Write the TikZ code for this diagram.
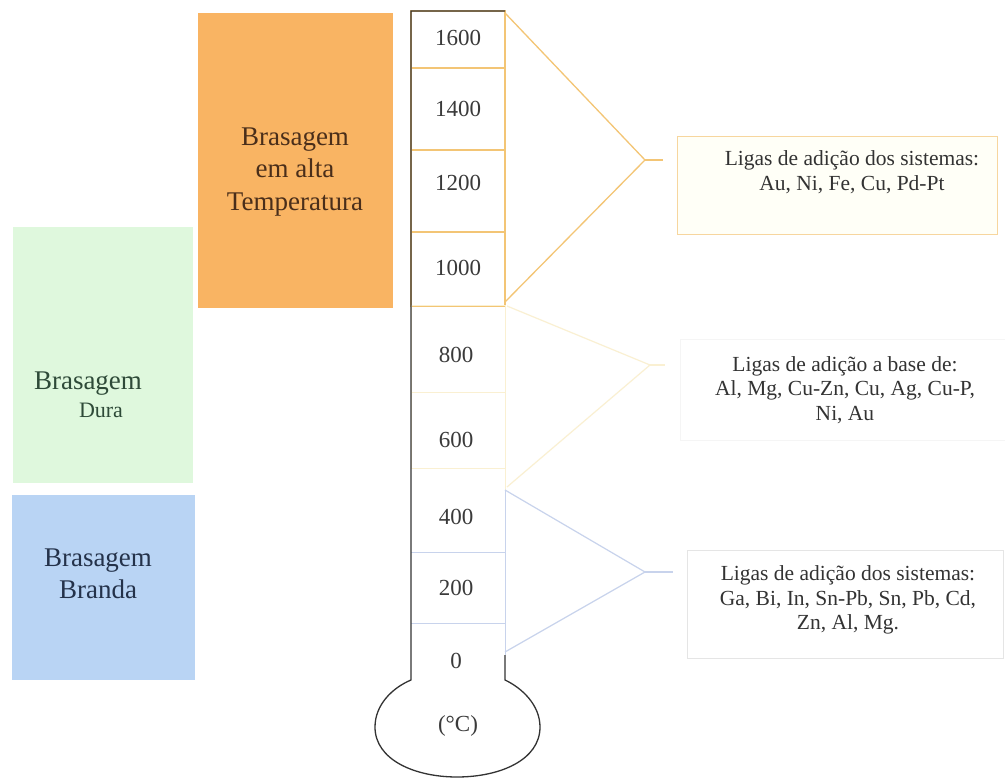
\documentclass[tikz,border=0pt]{standalone}
\usepackage{fontspec}
\setmainfont{Liberation Serif}
\definecolor{hotfill}{HTML}{F9B463}
\definecolor{hardfill}{HTML}{DFF8DD}
\definecolor{softfill}{HTML}{B9D4F4}
\definecolor{hottext}{HTML}{4A2E1A}
\definecolor{hardtext}{HTML}{2E4A38}
\definecolor{softtext}{HTML}{24324A}
\definecolor{hotline}{HTML}{F3C575}
\definecolor{midline}{HTML}{FAF0D2}
\definecolor{softline}{HTML}{C8D3EC}
\definecolor{numtext}{HTML}{3A3A3A}
\definecolor{boxtext}{HTML}{333333}
\tikzset{
  zonebox/.style={draw=none, inner sep=0pt},
  biglabel/.style={font=\fontsize{27}{32.5}\selectfont, align=center, inner sep=0pt},
  numlabel/.style={font=\fontsize{23}{26}\selectfont, text=numtext, inner sep=0pt},
  infobox/.style={inner sep=0pt},
  infotext/.style={font=\fontsize{21.5}{24.5}\selectfont, text=boxtext, align=center, inner sep=0pt},
  stem/.style={draw=black!80, line width=1.3pt},
}
\begin{document}
\begin{tikzpicture}[x=1pt,y=-1pt]
\useasboundingbox (0,0) rectangle (1005,778);
\fill[white] (0,0) rectangle (1005,778);

% zone boxes
\node[zonebox, fill=hotfill, minimum width=195, minimum height=295] (hot) at (295,160.5) {};
\node[zonebox, fill=hardfill, minimum width=180, minimum height=256] (hard) at (103,355) {};
\node[zonebox, fill=softfill, minimum width=183, minimum height=185] (soft) at (103.5,587.5) {};

\node[biglabel, text=hottext] (hotlbl) at (295,172) {Brasagem\\em alta\\Temperatura};
\node[biglabel, text=hardtext] (hardlbl1) at (88,384) {Brasagem};
\node[biglabel, text=hardtext, font=\fontsize{22}{26}\selectfont] (hardlbl2) at (101,410) {Dura};
\node[biglabel, text=softtext] (softlbl) at (98,574) {Brasagem\\Branda};

% thermometer cells
\draw[hotline, line width=1.2pt] (411,11) rectangle (505,68);
\draw[hotline, line width=1.2pt] (411,68) rectangle (505,150);
\draw[hotline, line width=1.2pt] (411,150) rectangle (505,232);
\draw[hotline, line width=1.2pt] (411,232) rectangle (505,306);
\draw[midline, line width=1pt] (411,306) rectangle (505,392);
\draw[midline, line width=1pt] (411,392) rectangle (505,468);
\draw[softline, line width=1pt] (411,552) -- (505,552);
\draw[softline, line width=1pt] (411,623) -- (505,623);
\draw[midline, line width=1pt] (505,468) -- (505,490);
\draw[softline, line width=1pt] (505,490) -- (505,655);

% stem and bulb
\draw[stem] (505,11) -- (411,11) -- (411,680)
  .. controls (392,688) and (375,705) .. (375,727)
  .. controls (375,760) and (415,777) .. (457,777)
  .. controls (500,777) and (540,760) .. (540,727)
  .. controls (540,705) and (522,688) .. (505,680) -- (505,655);

% temperature labels
\node[numlabel] (t1600) at (458,38) {1600};
\node[numlabel] (t1400) at (458,109) {1400};
\node[numlabel] (t1200) at (458,183) {1200};
\node[numlabel] (t1000) at (458,268) {1000};
\node[numlabel] (t800) at (456,355) {800};
\node[numlabel] (t600) at (456,440) {600};
\node[numlabel] (t400) at (456,517) {400};
\node[numlabel] (t200) at (456,588) {200};
\node[numlabel] (t0) at (456,661) {0};
\node[numlabel] (unit) at (458,726) {(°C)};

% braces (triangles)
\coordinate (hottip) at (645,160);
\coordinate (midtip) at (650,365);
\coordinate (softtip) at (645,572);
\draw[hotline, line width=1.3pt] (505,13) -- (hottip) -- (505,302);
\draw[midline, line width=1.2pt] (507,306) -- (midtip) -- (507,487);
\draw[softline, line width=1.2pt] (505,490) -- (softtip) -- (505,652);

% info boxes
\node[infobox, draw=hotline!70, fill=yellow!3, line width=1pt, minimum width=320, minimum height=98] (hotinfo) at (837,186) {};
\node[infotext] (hotinfotxt) at (852,172) {Ligas de adição dos sistemas:\\Au, Ni, Fe, Cu, Pd-Pt};
\node[infobox, draw=black!4, line width=1pt, minimum width=326, minimum height=100] (midinfo) at (843,390) {};
\node[infotext] (midinfotxt) at (845,390) {Ligas de adição a base de:\\Al, Mg, Cu-Zn, Cu, Ag, Cu-P,\\Ni, Au};
\node[infobox, draw=black!10, line width=1pt, minimum width=316, minimum height=108] (softinfo) at (845,604) {};
\node[infotext] (softinfotxt) at (848,600) {Ligas de adição dos sistemas:\\Ga, Bi, In, Sn-Pb, Sn, Pb, Cd,\\Zn, Al, Mg.};

% connectors
\draw[hotline, line width=1.2pt, shorten >=14pt] (hottip) -- (hotinfo.west |- hottip);
\draw[midline, line width=1.2pt, shorten >=15pt] (midtip) -- (midinfo.west |- midtip);
\draw[softline, line width=1.2pt, shorten >=14pt] (softtip) -- (softinfo.west |- softtip);
\end{tikzpicture}
\end{document}
